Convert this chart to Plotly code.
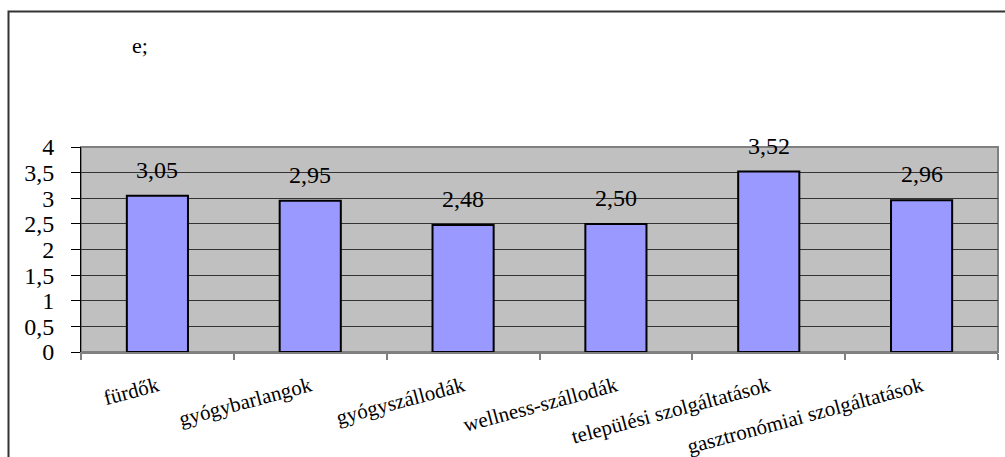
import plotly.graph_objects as go

# Értékelés szolgáltatás-típusonként
categories = [
    "fürdők",
    "gyógybarlangok",
    "gyógyszállodák",
    "wellness-szállodák",
    "települési szolgáltatások",
    "gasztronómiai szolgáltatások",
]
values = [3.05, 2.95, 2.48, 2.50, 3.52, 2.96]
value_labels = ["3,05", "2,95", "2,48", "2,50", "3,52", "2,96"]
y_ticks = [0, 0.5, 1, 1.5, 2, 2.5, 3, 3.5, 4]
y_tick_text = ["0", "0,5", "1", "1,5", "2", "2,5", "3", "3,5", "4"]

W, H = 1005, 457
ML, MR, MT, MB = 81, 7, 147, 105
plot_w = W - ML - MR
plot_h = H - MT - MB

SERIF = "Times New Roman"


def px_to_paper_x(px):
    return (px - ML) / plot_w


def px_to_paper_y(py):
    return (H - MB - py) / plot_h


fig = go.Figure()

fig.add_trace(go.Bar(
    x=categories,
    y=values,
    width=0.4,
    marker=dict(color="#9999FF", line=dict(color="#000000", width=2)),
    hoverinfo="skip",
))

# value labels above each bar
for cat, val, lab in zip(categories, values, value_labels):
    fig.add_annotation(
        x=cat, y=val, xref="x", yref="y",
        text=lab, showarrow=False,
        yanchor="middle", yshift=26,
        font=dict(family=SERIF, size=24, color="#000000"),
    )

# partially visible caption text in the upper left
fig.add_annotation(
    x=px_to_paper_x(140), y=px_to_paper_y(45), xref="paper", yref="paper",
    text="e;", showarrow=False, xanchor="center", yanchor="middle",
    font=dict(family=SERIF, size=22, color="#000000"),
)

# chart-area frame (runs off the right and bottom edges)
fig.add_shape(
    type="path", xref="paper", yref="paper",
    path="M {x0},{y0} L {x0},{y1} L {x2},{y1}".format(
        x0=px_to_paper_x(8.5), y0=px_to_paper_y(H + 2),
        y1=px_to_paper_y(11.5), x2=px_to_paper_x(W + 2),
    ),
    line=dict(color="#333333", width=2),
)
# plot-area border
fig.add_shape(
    type="rect", xref="paper", yref="paper",
    x0=0, x1=1, y0=0, y1=1,
    line=dict(color="#808080", width=2),
    layer="below",
)

fig.update_layout(
    width=W, height=H,
    margin=dict(l=ML, r=MR, t=MT, b=MB, pad=0),
    paper_bgcolor="#FFFFFF",
    plot_bgcolor="#C0C0C0",
    showlegend=False,
    bargap=0.6,
    font=dict(family=SERIF, color="#000000"),
)

fig.update_yaxes(
    range=[0, 4],
    tickvals=y_ticks,
    ticktext=y_tick_text,
    automargin=False,
    showgrid=True, gridcolor="#333333", gridwidth=1,
    zeroline=False,
    showline=True, linecolor="#000000", linewidth=1,
    ticks="outside", ticklen=9, tickcolor="#000000", tickwidth=1,
    ticklabelstandoff=12,
    tickfont=dict(family=SERIF, size=24, color="#000000"),
)

fig.update_xaxes(
    automargin=False,
    showgrid=False, zeroline=False,
    showline=True, linecolor="#808080", linewidth=2,
    ticks="outside", tickson="boundaries", ticklen=6,
    tickcolor="#808080", tickwidth=2,
    tickangle=-15,
    ticklabelstandoff=12,
    tickfont=dict(family=SERIF, size=21, color="#000000"),
)

fig.write_html("out.html")
